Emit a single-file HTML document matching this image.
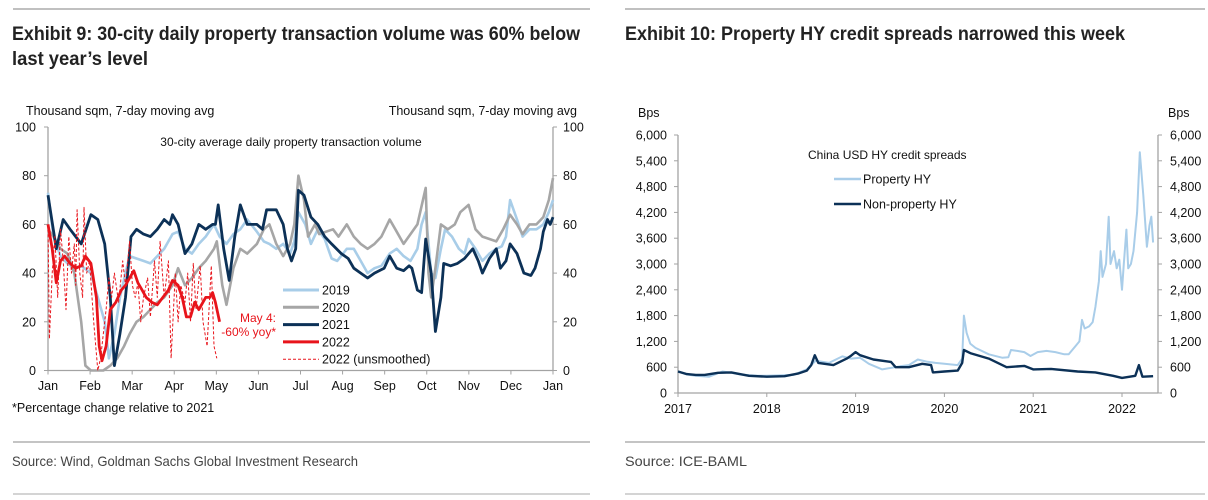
<!DOCTYPE html>
<html><head><meta charset="utf-8"><style>
html,body{margin:0;padding:0;background:#fff;}
svg{display:block;font-family:"Liberation Sans",Arial,sans-serif;}
</style></head><body>
<svg id="root" width="1208" height="500" viewBox="0 0 1208 500">
<g>
<line x1="13" y1="9" x2="590" y2="9" stroke="#9a9a9a" stroke-width="1.2"/>
<text x="12" y="40" font-size="19" font-weight="bold" fill="#222" textLength="568" lengthAdjust="spacingAndGlyphs">Exhibit 9: 30-city daily property transaction volume was 60% below</text>
<text x="12" y="65" font-size="19" font-weight="bold" fill="#222" textLength="136" lengthAdjust="spacingAndGlyphs">last year’s level</text>
<text x="26" y="115" font-size="12.5" fill="#111">Thousand sqm, 7-day moving avg</text>
<text x="577" y="115" font-size="12.5" fill="#111" text-anchor="end">Thousand sqm, 7-day moving avg</text>
<text x="291" y="146" font-size="12" fill="#111" text-anchor="middle">30-city average daily property transaction volume</text>
<g id="lc"></g>
<text x="12" y="412" font-size="12.5" fill="#111">*Percentage change relative to 2021</text>
<line x1="13" y1="442" x2="590" y2="442" stroke="#8a8a8a" stroke-width="1"/>
<text x="12" y="466" font-size="14" fill="#444" textLength="346" lengthAdjust="spacingAndGlyphs">Source: Wind, Goldman Sachs Global Investment Research</text>
<line x1="13" y1="494" x2="590" y2="494" stroke="#aaa" stroke-width="1"/>
</g>
<g>
<line x1="625" y1="9" x2="1205" y2="9" stroke="#9a9a9a" stroke-width="1.2"/>
<text x="625" y="40" font-size="19" font-weight="bold" fill="#222" textLength="500" lengthAdjust="spacingAndGlyphs">Exhibit 10: Property HY credit spreads narrowed this week</text>
<text x="638" y="117" font-size="12.5" fill="#111">Bps</text>
<text x="1168" y="117" font-size="12.5" fill="#111">Bps</text>
<g id="rc"></g>
<line x1="625" y1="442" x2="1205" y2="442" stroke="#8a8a8a" stroke-width="1"/>
<text x="625" y="466" font-size="14" fill="#444" textLength="122" lengthAdjust="spacingAndGlyphs">Source: ICE-BAML</text>
<line x1="625" y1="494" x2="1205" y2="494" stroke="#aaa" stroke-width="1"/>
</g>
</svg>
<script>
// ---------- Left chart data (day of year, thousand sqm) ----------
const monthLabels = ["Jan","Feb","Mar","Apr","May","Jun","Jul","Aug","Sep","Oct","Nov","Dec","Jan"];
const yTicksLeft = [0,20,40,60,80,100];
const s2019 = [[0,73],[4,55],[9,47],[14,44],[19,42],[24,43],[31,40],[37,28],[41,20],[44,5],[48,15],[52,30],[56,40],[59,47],[64,46],[69,45],[74,44],[79,47],[84,50],[90,56],[94,57],[99,50],[104,48],[109,52],[114,55],[120,60],[124,55],[129,52],[134,56],[139,58],[144,62],[151,57],[156,53],[160,52],[165,50],[170,52],[175,48],[178,53],[181,65],[186,60],[190,52],[195,58],[200,54],[205,46],[209,45],[216,50],[221,50],[226,45],[231,40],[236,42],[241,43],[247,48],[252,50],[257,47],[262,45],[267,50],[270,60],[273,65],[277,40],[280,38],[284,50],[287,58],[292,55],[297,50],[301,48],[304,54],[309,50],[314,45],[319,48],[324,50],[328,51],[331,55],[334,70],[339,62],[343,55],[348,58],[353,58],[358,60],[362,65],[365,70]];
const s2020 = [[0,58],[4,55],[9,50],[14,48],[19,40],[24,20],[27,2],[31,0],[40,0],[45,2],[50,5],[55,10],[59,15],[64,20],[69,22],[74,25],[79,28],[84,30],[90,35],[94,42],[99,35],[104,38],[109,42],[114,45],[120,50],[122,53],[126,35],[129,27],[134,42],[139,50],[144,48],[151,52],[156,58],[160,60],[165,52],[170,47],[175,52],[178,60],[181,80],[185,70],[188,55],[193,60],[196,56],[201,57],[206,58],[210,55],[216,60],[221,55],[226,52],[231,50],[236,52],[241,55],[247,62],[252,57],[257,52],[262,56],[267,60],[273,75],[275,40],[277,30],[280,42],[284,60],[289,58],[294,60],[298,65],[304,68],[309,58],[314,55],[319,54],[324,53],[329,58],[334,64],[339,60],[343,56],[348,60],[353,60],[358,63],[362,70],[365,79]];
const s2021 = [[0,72],[6,50],[11,62],[16,58],[20,55],[24,52],[31,64],[36,62],[41,52],[45,30],[48,2],[52,15],[56,30],[60,55],[64,58],[69,56],[74,55],[79,58],[84,62],[88,60],[90,64],[94,60],[99,48],[104,52],[109,60],[114,58],[119,60],[121,60],[123,68],[127,50],[131,37],[135,55],[139,68],[144,60],[151,60],[155,58],[158,66],[165,66],[170,60],[173,50],[176,45],[179,50],[181,74],[185,72],[190,63],[195,60],[200,55],[205,52],[212,48],[217,46],[221,42],[226,40],[231,38],[236,40],[243,42],[247,47],[252,42],[257,41],[261,43],[263,42],[267,33],[270,32],[273,54],[277,40],[280,16],[284,30],[286,44],[291,43],[296,44],[301,46],[304,48],[307,50],[311,45],[314,40],[319,46],[324,50],[327,42],[331,45],[334,52],[339,48],[344,40],[349,39],[352,42],[356,50],[358,57],[361,62],[363,60],[365,63]];
const s2022 = [[0,60],[3,50],[6,36],[9,45],[12,47],[16,44],[20,42],[24,43],[27,47],[31,44],[35,30],[37,10],[39,4],[42,10],[45,25],[49,28],[53,33],[56,35],[59,38],[62,41],[65,36],[68,33],[71,30],[75,28],[79,27],[83,30],[87,33],[90,37],[94,35],[97,30],[100,22],[103,22],[106,28],[109,25],[114,30],[117,30],[119,32],[121,28],[124,20]];
const s2022raw = [[0,60],[1,13],[3,40],[5,55],[7,30],[9,58],[11,45],[13,25],[15,55],[17,40],[19,52],[20,35],[21,66],[23,40],[25,30],[26,67],[28,40],[30,45],[33,20],[36,0],[38,5],[40,15],[42,25],[44,38],[46,30],[48,40],[51,28],[54,45],[56,35],[59,53],[61,35],[63,30],[65,36],[67,20],[69,30],[72,38],[74,22],[77,45],[79,30],[81,53],[84,30],[87,45],[89,5],[92,40],[94,20],[96,35],[99,28],[101,40],[103,20],[105,44],[107,25],[110,43],[112,20],[115,10],[118,43],[120,10],[122,5]];

// ---------- Right chart data (year fraction, bps) ----------
const yearLabels = ["2017","2018","2019","2020","2021","2022"];
const yTicksRight = [0,600,1200,1800,2400,3000,3600,4200,4800,5400,6000];
const propertyHY = [[2017.0,500],[2017.1,430],[2017.2,400],[2017.35,380],[2017.5,500],[2017.6,470],[2017.7,430],[2017.9,400],[2018.0,400],[2018.15,410],[2018.3,420],[2018.45,550],[2018.55,750],[2018.7,700],[2018.85,850],[2018.95,800],[2019.05,820],[2019.15,680],[2019.3,550],[2019.5,620],[2019.6,650],[2019.7,780],[2019.8,730],[2019.9,700],[2020.0,680],[2020.15,650],[2020.2,800],[2020.22,1800],[2020.25,1400],[2020.29,1150],[2020.35,1050],[2020.5,900],[2020.65,820],[2020.72,830],[2020.75,1000],[2020.82,980],[2020.9,950],[2020.97,860],[2021.05,950],[2021.15,980],[2021.25,950],[2021.35,900],[2021.4,900],[2021.48,1100],[2021.52,1200],[2021.55,1700],[2021.58,1500],[2021.63,1550],[2021.67,1650],[2021.7,2000],[2021.74,2600],[2021.76,3300],[2021.78,2700],[2021.82,3000],[2021.85,4100],[2021.87,3000],[2021.91,3300],[2021.94,2900],[2021.97,3100],[2022.0,2400],[2022.02,3000],[2022.05,3800],[2022.07,2900],[2022.1,3000],[2022.13,3300],[2022.17,4200],[2022.2,5600],[2022.24,4600],[2022.28,3400],[2022.31,3900],[2022.33,4100],[2022.35,3500]];
const nonPropertyHY = [[2017.0,500],[2017.1,440],[2017.2,420],[2017.3,420],[2017.45,470],[2017.6,480],[2017.8,400],[2018.0,380],[2018.2,390],[2018.35,450],[2018.45,520],[2018.5,650],[2018.54,880],[2018.58,700],[2018.75,650],[2018.9,800],[2018.95,870],[2019.0,950],[2019.05,880],[2019.2,780],[2019.4,720],[2019.45,600],[2019.6,600],[2019.75,680],[2019.85,650],[2019.87,480],[2020.0,500],[2020.15,520],[2020.2,700],[2020.22,1000],[2020.3,920],[2020.5,800],[2020.7,600],[2020.9,630],[2021.0,550],[2021.2,560],[2021.5,500],[2021.7,480],[2021.9,400],[2022.0,350],[2022.15,400],[2022.19,650],[2022.23,380],[2022.35,390]];

const NS = "http://www.w3.org/2000/svg";
function mk(parent, tag, attrs, text){
  const el = document.createElementNS(NS, tag);
  for (const k in attrs) el.setAttribute(k, attrs[k]);
  if (text !== undefined) el.textContent = text;
  parent.appendChild(el);
  return el;
}
function pathFrom(pts, xf, yf){
  return pts.map((p,i)=>(i?"L":"M")+xf(p[0]).toFixed(1)+","+yf(p[1]).toFixed(1)).join("");
}

// ---------- Left chart ----------
(function(){
  const g = document.getElementById("lc");
  const x0=48, x1=553, yb=370.5, yt=127;
  const xL = d => x0 + d/365*(x1-x0);
  const yL = v => yb - v/100*(yb-yt);
  const axis = "#a3a3a3";
  let el;
  el = mk(g,"line",{x1:x0,y1:yt,x2:x0,y2:yb,stroke:axis,"stroke-width":1.3});
  
  
  el = mk(g,"line",{x1:x1,y1:yt,x2:x1,y2:yb,stroke:axis,"stroke-width":1.3});
  
  
  el = mk(g,"line",{x1:x0,y1:yb,x2:x1,y2:yb,stroke:axis,"stroke-width":1.3});
  
  
  yTicksLeft.forEach(v=>{
    const y=yL(v);
    mk(g,"line",{x1:x0-4,y1:y,x2:x0,y2:y,stroke:axis});
    mk(g,"line",{x1:x1,y1:y,x2:x1+4,y2:y,stroke:axis});
    el = mk(g,"text",{x:36,y:y+4.5,"font-size":12.5,"text-anchor":"end",fill:"#111"},String(v));
    
    
    el = mk(g,"text",{x:563,y:y+4.5,"font-size":12.5,fill:"#111"},String(v));
    
    
  });
  monthLabels.forEach((m,i)=>{
    const x = x0 + i*(x1-x0)/12;
    mk(g,"line",{x1:x,y1:yb,x2:x,y2:yb+4,stroke:axis});
    el = mk(g,"text",{x:x,y:390,"font-size":12.5,"text-anchor":"middle",fill:"#111"},m);
    
    
  });
  const series = [
    [s2019,"#a8cde8",2.6,"","line-2019"],
    [s2020,"#a6a6a6",2.6,"","line-2020"],
    [s2021,"#0c3157",2.8,"","line-2021"],
    [s2022raw,"#e8141b",1,"3,2","line-2022-unsmoothed"],
    [s2022,"#e8141b",2.8,"","line-2022"]
  ];
  series.forEach(s=>{
    const a={d:pathFrom(s[0],xL,yL),fill:"none",stroke:s[1],"stroke-width":s[2],"stroke-linejoin":"round"};
    if(s[3]) a["stroke-dasharray"]=s[3];
    el = mk(g,"path",a);
    
    
  });
  el = mk(g,"text",{x:276,y:322,"font-size":12,"text-anchor":"end",fill:"#e8141b"},"May 4:");
  
  
  el = mk(g,"text",{x:276,y:336,"font-size":12,"text-anchor":"end",fill:"#e8141b"},"-60% yoy*");
  
  
  const leg = [["2019","#a8cde8",3,""],["2020","#a6a6a6",3,""],["2021","#0c3157",3,""],["2022","#e8141b",3,""],["2022 (unsmoothed)","#e8141b",1,"3,2"]];
  leg.forEach((l,i)=>{
    const y = 290 + i*17.3;
    const lg = mk(g,"g",{});
    
    
    const a={x1:283,y1:y,x2:319,y2:y,stroke:l[1],"stroke-width":l[2]};
    if(l[3]) a["stroke-dasharray"]=l[3];
    mk(lg,"line",a);
    mk(lg,"text",{x:322,y:y+4.5,"font-size":12.5,fill:"#111"},l[0]);
  });
})();

// ---------- Right chart ----------
(function(){
  const g = document.getElementById("rc");
  const x0=678, x1=1158, yb=393, yt=135;
  const yr0=2017, yrPx=88.8;
  const xR = t => x0 + (t-yr0)*yrPx;
  const yR = v => yb - v/6000*(yb-yt);
  const axis="#a3a3a3";
  let el;
  el = mk(g,"line",{x1:x0,y1:yt,x2:x0,y2:yb,stroke:axis,"stroke-width":1.3});
  
  
  el = mk(g,"line",{x1:x1,y1:yt,x2:x1,y2:yb,stroke:axis,"stroke-width":1.3});
  
  
  el = mk(g,"line",{x1:x0,y1:yb,x2:x1,y2:yb,stroke:axis,"stroke-width":1.3});
  
  
  yTicksRight.forEach(v=>{
    const y=yR(v);
    const lab = v.toLocaleString("en-US");
    mk(g,"line",{x1:x0-4,y1:y,x2:x0,y2:y,stroke:axis});
    mk(g,"line",{x1:x1,y1:y,x2:x1+4,y2:y,stroke:axis});
    el = mk(g,"text",{x:667,y:y+4.5,"font-size":12.5,"text-anchor":"end",fill:"#111"},lab);
    
    
    el = mk(g,"text",{x:1170,y:y+4.5,"font-size":12.5,fill:"#111"},lab);
    
    
  });
  yearLabels.forEach(yl=>{
    const x = xR(+yl);
    mk(g,"line",{x1:x,y1:yb,x2:x,y2:yb+4,stroke:axis});
    el = mk(g,"text",{x:x,y:413,"font-size":12.5,"text-anchor":"middle",fill:"#111"},yl);
    
    
  });
  el = mk(g,"path",{d:pathFrom(propertyHY,xR,yR),fill:"none",stroke:"#a9cde9","stroke-width":2,"stroke-linejoin":"round"});
  
  
  el = mk(g,"path",{d:pathFrom(nonPropertyHY,xR,yR),fill:"none",stroke:"#0c3157","stroke-width":2.4,"stroke-linejoin":"round"});
  
  
  el = mk(g,"text",{x:808,y:159,"font-size":12,fill:"#111"},"China USD HY credit spreads");
  
  
  [["Property HY","#a9cde9",179],["Non-property HY","#0c3157",204]].forEach(l=>{
    const lg = mk(g,"g",{});
    
    
    mk(lg,"line",{x1:834,y1:l[2],x2:861,y2:l[2],stroke:l[1],"stroke-width":2.4});
    mk(lg,"text",{x:863,y:l[2]+4.5,"font-size":12.5,fill:"#111"},l[0]);
  });
})();
</script>
</body></html>
